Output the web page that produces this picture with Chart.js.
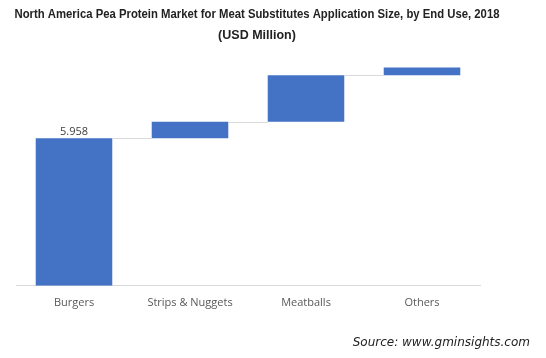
<!DOCTYPE html>
<html>
<head>
<meta charset="utf-8">
<script src="https://cdn.jsdelivr.net/npm/chart.js@4/dist/chart.umd.min.js"></script>
<style>
    html, body { margin: 0; padding: 0; background: #fff; }
    #wrap { position: relative; width: 546px; height: 358px; }
</style>
</head>
<body>
<div id="wrap"><canvas id="waterfall" width="546" height="358"></canvas></div>
<script>
// waterfall - pea protein market by end use

const categories = ['Burgers', 'Strips & Nuggets', 'Meatballs', 'Others'];
// increments per segment (USD Million)
const increments = [5.958, 0.66, 1.88, 0.31];
const labelValues = ['5.958', null, null, null];

const titleLines = [
    'North America Pea Protein Market for Meat Substitutes Application Size, by End Use, 2018',
    '(USD Million)'
];
const sourceText = 'Source: www.gminsights.com';

const COLORS = {
    bar: '#4472C4',
    axis: '#d9d9d9',
    connector: '#d9d9d9',
    tick: '#595959',
    label: '#404040',
    title: '#222222'
};

// floating bars [start, end] built from running total
let running = 0;
const floating = increments.map(v => {
    const seg = [running, running + v];
    running += v;
    return seg;
});

// title, connectors, data label, source text
const extrasPlugin = {
    id: 'extras',
    afterDatasetsDraw(chart) {
        const ctx = chart.ctx;
        const meta = chart.getDatasetMeta(0);
        const yScale = chart.scales.y;

        ctx.save();
        ctx.fillStyle = COLORS.title;
        ctx.font = 'bold 12.5px "Liberation Sans"';
        ctx.textAlign = 'center';
        ctx.textBaseline = 'middle';
        // squeeze a little, the original font is narrower
        ctx.fillText(titleLines[0], 257, 15, 485);
        ctx.fillText(titleLines[1], 257, 36);

        ctx.strokeStyle = COLORS.connector;
        ctx.lineWidth = 1;
        for (let i = 0; i < meta.data.length - 1; i++) {
            const a = meta.data[i];
            const b = meta.data[i + 1];
            const y = Math.round(yScale.getPixelForValue(floating[i][1])) + 0.5;
            ctx.beginPath();
            ctx.moveTo(a.x + a.width / 2, y);
            ctx.lineTo(b.x - b.width / 2, y);
            ctx.stroke();
        }

        ctx.fillStyle = COLORS.label;
        ctx.font = '11px "Open Sans"';
        ctx.textAlign = 'center';
        ctx.textBaseline = 'bottom';
        meta.data.forEach((bar, i) => {
            if (!labelValues[i]) return;
            ctx.fillText(labelValues[i], bar.x, yScale.getPixelForValue(floating[i][1]) - 1);
        });

        ctx.fillStyle = '#222';
        ctx.font = 'italic 12px "DejaVu Sans"';
        ctx.textAlign = 'right';
        ctx.textBaseline = 'middle';
        ctx.fillText(sourceText, 530, 343);
        ctx.restore();
    }
};

const ctx = document.getElementById('waterfall').getContext('2d');
const chart = new Chart(ctx, {
    type: 'bar',
    data: {
        labels: categories,
        datasets: [{
            data: floating,
            backgroundColor: COLORS.bar,
            borderWidth: 0,
            categoryPercentage: 1,
            barPercentage: 0.66
        }]
    },
    options: {
        responsive: false,
        animation: false,
        layout: { padding: { left: 16, right: 66, top: 38, bottom: 47 } },
        plugins: {
            legend: { display: false },
            tooltip: { enabled: false },
            title: { display: false }
        },
        scales: {
            x: {
                grid: { display: false },
                border: { color: COLORS.axis },
                ticks: { color: COLORS.tick, font: { family: 'Open Sans', size: 11 }, padding: 2 }
            },
            y: {
                display: false,
                min: 0,
                max: 10
            }
        }
    },
    plugins: [extrasPlugin]
});
</script>
</body>
</html>
